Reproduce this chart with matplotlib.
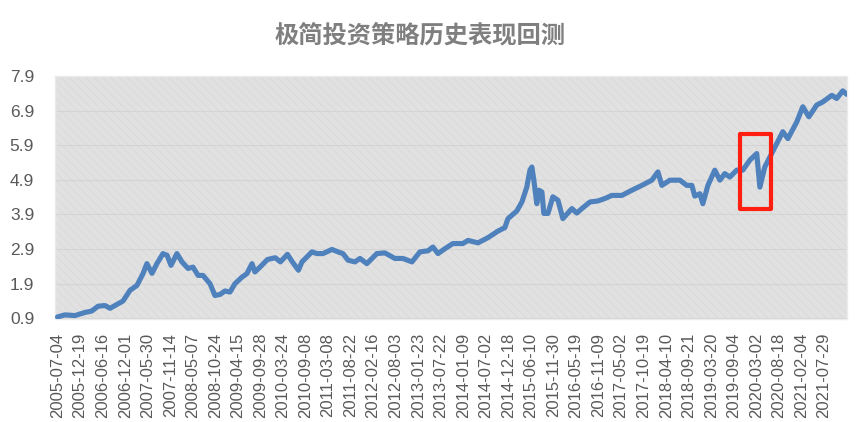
import numpy as np
import matplotlib
matplotlib.use("Agg")
import matplotlib.pyplot as plt
from matplotlib.patches import Rectangle

plt.rcParams['font.family'] = ['Noto Sans CJK SC', 'DejaVu Sans']
plt.rcParams['hatch.linewidth'] = 0.6

title = "极简投资策略历史表现回测"

# category labels, one every 115 trading days
tick_labels = ["2005-07-04", "2005-12-19", "2006-06-16", "2006-12-01", "2007-05-30",
               "2007-11-14", "2008-05-07", "2008-10-24", "2009-04-15", "2009-09-28",
               "2010-03-24", "2010-09-08", "2011-03-08", "2011-08-22", "2012-02-16",
               "2012-08-03", "2013-01-23", "2013-07-22", "2014-01-09", "2014-07-02",
               "2014-12-18", "2015-06-10", "2015-11-30", "2016-05-19", "2016-11-09",
               "2017-05-02", "2017-10-19", "2018-04-10", "2018-09-21", "2019-03-20",
               "2019-09-04", "2020-03-02", "2020-08-18", "2021-02-04", "2021-07-29"]
label_step = 115

# trading-day index and net value
days = [0, 38, 89, 140, 174, 207, 242, 268, 309, 334,
        370, 405, 436, 456, 482, 507, 538, 559, 579, 609,
        635, 666, 691, 717, 742, 778, 803, 829, 854, 880,
        905, 941, 966, 992, 1007, 1033, 1071, 1111, 1137, 1173,
        1198, 1229, 1247, 1298, 1323, 1354, 1400, 1431, 1456, 1482,
        1517, 1543, 1578, 1629, 1670, 1721, 1762, 1808, 1849, 1890,
        1915, 1941, 1976, 2017, 2068, 2094, 2145, 2196, 2247, 2282,
        2298, 2343, 2369, 2394, 2410, 2420, 2430, 2445, 2456, 2471,
        2481, 2502, 2527, 2553, 2578, 2624, 2649, 2675, 2716, 2757,
        2792, 2828, 2879, 2930, 2981, 3032, 3063, 3083, 3124, 3175,
        3210, 3236, 3251, 3277, 3292, 3318, 3353, 3379, 3404, 3430,
        3465, 3496, 3532, 3567, 3583, 3608, 3634, 3669, 3700, 3726,
        3771, 3802, 3833, 3873, 3904, 3950, 3975, 4006, 4026]
values = [0.94, 1.00, 0.98, 1.07, 1.11, 1.25, 1.27, 1.19, 1.32, 1.40,
          1.71, 1.85, 2.19, 2.48, 2.20, 2.48, 2.77, 2.72, 2.43, 2.77,
          2.53, 2.34, 2.38, 2.14, 2.14, 1.90, 1.56, 1.59, 1.69, 1.66,
          1.90, 2.09, 2.19, 2.48, 2.24, 2.38, 2.60, 2.65, 2.53, 2.75,
          2.53, 2.29, 2.53, 2.82, 2.77, 2.77, 2.89, 2.82, 2.77, 2.58,
          2.53, 2.63, 2.48, 2.77, 2.79, 2.63, 2.63, 2.53, 2.82, 2.85,
          2.96, 2.77, 2.91, 3.06, 3.06, 3.15, 3.08, 3.23, 3.42, 3.52,
          3.78, 4.00, 4.26, 4.69, 5.18, 5.27, 4.89, 4.21, 4.60, 4.55,
          3.93, 3.93, 4.41, 4.31, 3.78, 4.07, 3.94, 4.07, 4.26, 4.29,
          4.36, 4.45, 4.45, 4.60, 4.74, 4.89, 5.13, 4.74, 4.89, 4.89,
          4.74, 4.74, 4.43, 4.50, 4.21, 4.74, 5.18, 4.89, 5.08, 4.98,
          5.18, 5.18, 5.47, 5.66, 4.69, 5.27, 5.56, 5.95, 6.29, 6.09,
          6.57, 7.01, 6.72, 7.06, 7.15, 7.34, 7.25, 7.47, 7.37]

yticks = [0.9, 1.9, 2.9, 3.9, 4.9, 5.9, 6.9, 7.9]

# highlighted covid dip (trading days, value range)
box_days = (3482, 3640)
box_vals = (4.05, 6.23)

fig = plt.figure(figsize=(8.59, 4.22), dpi=100)
ax = fig.add_axes([0.064, 0.244, 0.9226, 0.576])

# hatched grey plot area
ax.set_facecolor('#e0e0e0')
ax.add_patch(Rectangle((0, 0), 1, 1, transform=ax.transAxes, facecolor='#e1e1e1',
                       edgecolor='#d9d9d9', hatch='\\\\\\\\', lw=0, zorder=0))
for s in ax.spines.values():
    s.set_color('#ebebeb')
    s.set_linewidth(1.0)

ax.yaxis.grid(True, color='#d4d4d4', lw=0.8)
ax.set_axisbelow(True)

ax.plot(days, values, color='#4F81BD', lw=3.7, solid_joinstyle='round',
        solid_capstyle='round', zorder=3)

ax.add_patch(Rectangle((box_days[0], box_vals[0]), box_days[1] - box_days[0],
                       box_vals[1] - box_vals[0], fill=False, edgecolor='#ff1f10',
                       lw=3.0, joinstyle='round', zorder=4))

ax.set_xlim(-13, 4030)
ax.set_ylim(0.88, 7.9)
ax.set_yticks(yticks)
ax.set_yticklabels([f"{v:.1f}" for v in yticks], family=['Liberation Sans', 'DejaVu Sans'],
                   fontsize=12.5, color='#595959')
ax.set_xticks(np.arange(len(tick_labels)) * label_step)
ax.set_xticklabels(tick_labels, rotation=90,
                   family=['Liberation Sans Narrow', 'Liberation Sans', 'DejaVu Sans'],
                   fontsize=12, color='#595959')
ax.tick_params(axis='y', length=0, pad=15)
ax.tick_params(axis='x', length=0, pad=10)

fig.text(0.489, 0.917, title, ha='center', va='center', fontsize=17.5,
         fontweight='bold', color='#7f7f7f')

fig.savefig('out.png', dpi=100)
